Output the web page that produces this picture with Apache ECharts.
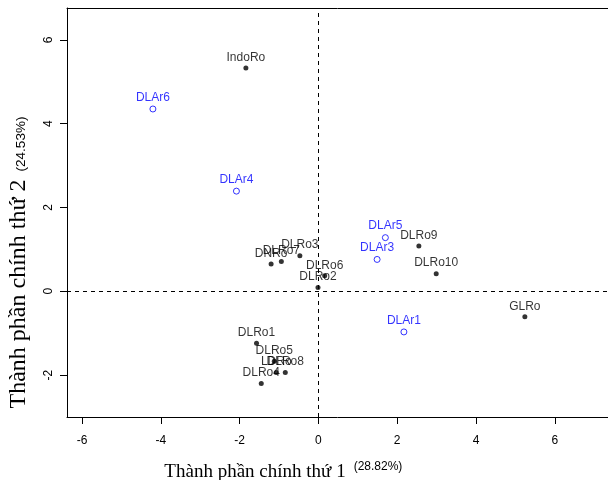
<!DOCTYPE html>
<html>
<head>
<meta charset="utf-8">
<script src="https://cdn.jsdelivr.net/npm/echarts@6/dist/echarts.min.js"></script>
<style>
  html, body { margin: 0; padding: 0; background: #fff; }
  #chart { width: 608px; height: 480px; }
</style>
</head>
<body>
<div id="chart"></div>
<script>
// Robusta samples (filled dots)
var roNames = ['IndoRo', 'DLRo9', 'DLRo10', 'GLRo', 'DLRo3', 'DLRo7', 'DNRo', 'DLRo6', 'DLRo2',
               'DLRo1', 'DLRo5', 'LDRo', 'DLRo8', 'DLRo4'];
var roPC1 = [-1.84, 2.55, 2.99, 5.24, -0.47, -0.94, -1.20, 0.16, -0.01,
             -1.57, -1.12, -1.07, -0.84, -1.45];
var roPC2 = [5.33, 1.08, 0.42, -0.61, 0.85, 0.71, 0.65, 0.37, 0.09,
             -1.24, -1.67, -1.94, -1.94, -2.20];

// Arabica samples (open circles)
var arNames = ['DLAr6', 'DLAr4', 'DLAr5', 'DLAr3', 'DLAr1'];
var arPC1 = [-4.20, -2.08, 1.70, 1.49, 2.17];
var arPC2 = [4.35, 2.39, 1.28, 0.76, -0.97];

// Tick labels
var xTicks = [-6, -4, -2, 0, 2, 4, 6];
var yTicks = [-2, 0, 2, 4, 6];

var xTitle = 'Thành phần chính thứ 1';
var xPct = '(28.82%)';
var yTitle = 'Thành phần chính thứ 2';
var yPct = '(24.53%)';

function pts(names, xs, ys) {
  return names.map(function (n, i) { return [xs[i], ys[i], n]; });
}

var sans = '"Liberation Sans", Arial, sans-serif';
var serif = '"Liberation Serif", "Times New Roman", serif';

var X_MIN = -6.38, X_MAX = 7.35;
var Y_MIN = -3.0, Y_MAX = 6.76;
var black = { color: '#000', width: 1 };

var chart = echarts.init(document.getElementById('chart'), null, { renderer: 'canvas' });

chart.setOption({
  animation: false,
  backgroundColor: '#fff',
  grid: { left: 67, top: 8, right: 0, bottom: 63, show: false },
  xAxis: [
    {
      type: 'value', min: X_MIN, max: X_MAX, position: 'bottom',
      splitLine: { show: false },
      axisLine: { show: true, onZero: false, lineStyle: black },
      axisTick: { show: true, length: 7, customValues: xTicks, lineStyle: black },
      axisLabel: { show: true, customValues: xTicks, margin: 18, color: '#000', fontSize: 12, fontFamily: sans }
    },
    {
      // top edge of the frame
      type: 'value', min: X_MIN, max: X_MAX, position: 'top',
      splitLine: { show: false },
      axisLine: { show: true, onZero: false, lineStyle: black },
      axisTick: { show: false },
      axisLabel: { show: false }
    }
  ],
  yAxis: {
    type: 'value', min: Y_MIN, max: Y_MAX,
    splitLine: { show: false },
    axisLine: { show: true, onZero: false, lineStyle: black },
    axisTick: { show: true, length: 7, customValues: yTicks, lineStyle: black },
    axisLabel: { show: true, customValues: yTicks, rotate: 90, margin: 12, color: '#000', fontSize: 12, fontFamily: sans }
  },
  graphic: [
    { type: 'text', x: 255, y: 472, style: { text: xTitle, font: '19px ' + serif, fill: '#000', textAlign: 'center', textVerticalAlign: 'middle' } },
    { type: 'text', x: 378, y: 467, style: { text: xPct, font: '12px ' + sans, fill: '#000', textAlign: 'center', textVerticalAlign: 'middle' } },
    { type: 'text', x: 19, y: 294, rotation: Math.PI / 2, style: { text: yTitle, font: '24px ' + serif, fill: '#000', textAlign: 'center', textVerticalAlign: 'middle' } },
    { type: 'text', x: 21, y: 144, rotation: Math.PI / 2, style: { text: yPct, font: '13.5px ' + sans, fill: '#000', textAlign: 'center', textVerticalAlign: 'middle' } }
  ],
  series: [
    {
      name: 'Ro', type: 'scatter',
      data: pts(roNames, roPC1, roPC2),
      symbol: 'circle', symbolSize: 5,
      itemStyle: { color: '#000' },
      label: {
        show: true, position: 'top', distance: 2,
        formatter: function (p) { return p.data[2]; },
        color: '#000', fontSize: 12, fontFamily: sans
      },
      markLine: {
        silent: true, symbol: ['none', 'none'],
        label: { show: false },
        lineStyle: { color: '#000', width: 1, type: [4, 4] },
        data: [{ xAxis: 0 }, { yAxis: 0 }]
      },
      z: 3
    },
    {
      name: 'Ar', type: 'scatter',
      data: pts(arNames, arPC1, arPC2),
      symbol: 'circle', symbolSize: 6,
      itemStyle: { color: '#fff', borderColor: '#0000ff', borderWidth: 1 },
      label: {
        show: true, position: 'top', distance: 2,
        formatter: function (p) { return p.data[2]; },
        color: '#0000ff', fontSize: 12, fontFamily: sans
      },
      z: 3
    }
  ]
});
</script>
</body>
</html>
